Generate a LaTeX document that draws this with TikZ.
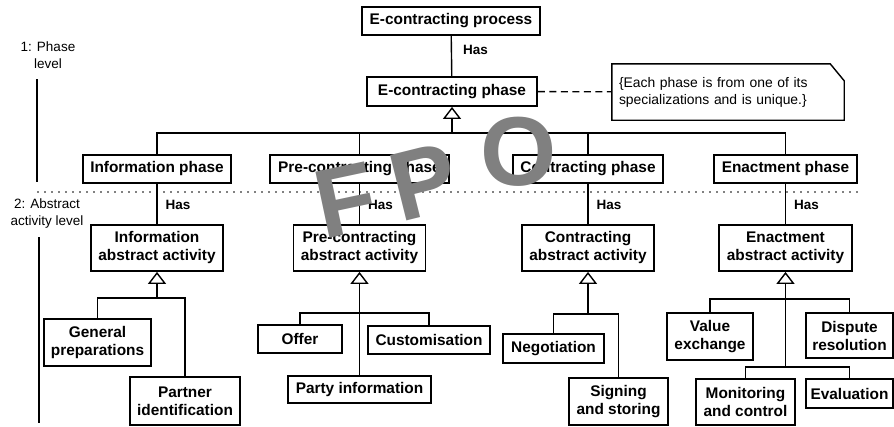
\documentclass[tikz,border=0pt]{standalone}
\usepackage{fontspec}
\setmainfont{Liberation Sans}
\usetikzlibrary{arrows.meta}

\begin{document}
\begin{tikzpicture}[
    x=1pt, y=-1pt,
    box/.style={draw, line width=1.8pt, align=center, inner sep=0pt, font=\bfseries\fontsize{15.4}{18}\selectfont},
    lvl/.style={align=center, inner sep=0pt, font=\fontsize{13.5}{16.5}\selectfont},
    has/.style={inner sep=0pt, font=\bfseries\fontsize{13.5}{16}\selectfont},
    conn/.style={line width=1.4pt},
    isa/.style={conn, -{Triangle[open, length=12pt, width=18pt]}},
    fpo/.style={text=black!50, inner sep=0pt, font=\bfseries\fontsize{98}{98}\selectfont}
]
\useasboundingbox (0,0) rectangle (894,426);

% Levels
\node[lvl] (lv1) at (48,55) {1: Phase\\level};
\node[lvl] (lv2) at (47,213.5) {2: Abstract\\activity level};
\coordinate (l1a) at (37,79);
\coordinate (l1b) at (37,182);
\coordinate (l2a) at (39,237);
\coordinate (l2b) at (39,423);
\coordinate (d0) at (38,192);
\coordinate (d1) at (858,192);
\draw[conn] (l1a) -- (l1b);
\draw[conn] (l2a) -- (l2b);
\draw[line width=1.6pt, line cap=round, dash pattern=on 0pt off 7pt] (d0) -- (d1);

% Process and phase
\node[box, minimum width=178pt, minimum height=28pt] (proc) at (451,21) {E-contracting process};
\node[box, minimum width=170pt, minimum height=29pt] (phase) at (452,91.5) {E-contracting phase};
\node[minimum width=232pt, minimum height=56pt, text width=218pt, align=left, inner sep=7pt,
      font=\fontsize{13.9}{17}\selectfont] (note) at (728,92)
     {\{Each phase is from one of its\\specializations and is unique.\}};
\draw[conn] (note.north west) -- ([xshift=-14pt]note.north east)
    -- ([yshift=-17pt]note.north east) -- (note.south east) -- (note.south west) -- cycle;
\draw[conn] (proc) -- node[has, pos=0.36, right=11pt] {Has} (phase);
\draw[conn, dash pattern=on 7pt off 4.5pt] (phase) -- (note);

% Phases
\node[box, minimum width=148pt, minimum height=28pt] (info) at (157,169) {Information phase};
\node[box, minimum width=179pt, minimum height=28pt] (pre) at (359.5,169) {Pre-contracting phase};
\node[box, minimum width=150pt, minimum height=28pt] (con) at (588,169) {Contracting phase};
\node[box, minimum width=143pt, minimum height=28pt] (ena) at (785.5,169) {Enactment phase};
\coordinate (bus) at (452,133);
\draw[isa] (bus) -- (phase);
\foreach \n in {info, pre, con, ena}
    \draw[conn] (\n.north) |- (bus);

% Abstract activities
\node[box, minimum width=132pt, minimum height=46pt] (iaa) at (157,248) {Information\\abstract activity};
\node[box, minimum width=132pt, minimum height=46pt] (paa) at (359.5,248) {Pre-contracting\\abstract activity};
\node[box, minimum width=132pt, minimum height=46pt] (caa) at (588,248) {Contracting\\abstract activity};
\node[box, minimum width=133pt, minimum height=46pt] (eaa) at (785.5,248) {Enactment\\abstract activity};
\foreach \a/\b in {info/iaa, pre/paa, con/caa, ena/eaa}
    \draw[conn] (\a) -- node[has, pos=0.52, right=8pt] {Has} (\b);

% Information
\node[box, minimum width=107pt, minimum height=47pt] (gen) at (97.5,342.5) {General\\preparations};
\node[box, minimum width=110pt, minimum height=48pt] (par) at (185,401) {Partner\\identification};
\coordinate (ib) at (157,298);
\draw[isa] (ib) -- (iaa);
\draw[conn] (gen.north) |- (ib);
\draw[conn] (par.north) |- (ib);

% Pre-contracting
\node[box, minimum width=84pt, minimum height=28pt] (off) at (300,339) {Offer};
\node[box, minimum width=122pt, minimum height=28pt] (cus) at (429,340) {Customisation};
\node[box, minimum width=143pt, minimum height=27pt] (pty) at (359.5,389.5) {Party information};
\coordinate (pb) at (359.5,313);
\draw[isa] (pty) -- (paa);
\draw[conn] (off.north) |- (pb);
\draw[conn] (cus.north) |- (pb);

% Contracting
\node[box, minimum width=101pt, minimum height=29pt] (neg) at (553.5,348.5) {Negotiation};
\node[box, minimum width=99pt, minimum height=47pt] (sig) at (618.5,401.5) {Signing\\and storing};
\coordinate (cb) at (588,314);
\draw[isa] (cb) -- (caa);
\draw[conn] (neg.north) |- (cb);
\draw[conn] (sig.north) |- (cb);

% Enactment
\node[box, minimum width=86pt, minimum height=47pt] (val) at (710,336.5) {Value\\exchange};
\node[box, minimum width=87pt, minimum height=45pt] (dis) at (849.5,335.5) {Dispute\\resolution};
\node[box, minimum width=99pt, minimum height=46pt] (mon) at (745.5,402) {Monitoring\\and control};
\node[box, minimum width=87pt, minimum height=29pt] (eva) at (849.5,393.5) {Evaluation};
\coordinate (eb) at (785.5,299);
\coordinate (eb2) at (785.5,367);
\draw[isa] (eb2) -- (eaa);
\draw[conn] (val.north) |- (eb);
\draw[conn] (dis.north) |- (eb);
\draw[conn] (mon.north) |- (eb2);
\draw[conn] (eva.north) |- (eb2);

% FPO
\node[fpo, rotate=12] (f) at (346,200) {F};
\node[fpo, rotate=14] (p) at (424,182) {P};
\node[fpo] (o) at (519,152) {O};
\end{tikzpicture}
\end{document}
